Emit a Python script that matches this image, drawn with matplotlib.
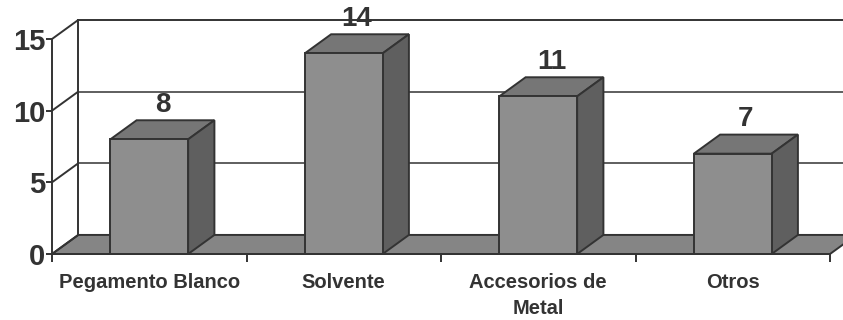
import matplotlib
matplotlib.use("Agg")
import matplotlib.pyplot as plt
from matplotlib.patches import Polygon

plt.rcParams["font.family"] = ["Liberation Sans", "DejaVu Sans"]

categories = ["Pegamento Blanco", "Solvente", "Accesorios de\nMetal", "Otros"]
values = [8, 14, 11, 7]
y_ticks = [0, 5, 10, 15]

TEXT = "#333333"
EDGE = "#333333"
FRONT = "#8e8e8e"
TOP = "#767676"
SIDE = "#5f5f5f"
FLOOR = "#858585"

fig = plt.figure(figsize=(8.43, 3.2), dpi=100)
ax = fig.add_axes([52 / 843, 66 / 320, 778 / 843, 215 / 320])
n = len(categories)
ax.set_xlim(0, n)
ax.set_ylim(0, 15)

# depth offset of the 3-D box, in data units
DX, DY = 0.135, 1.33
BW = 0.40  # bar width as fraction of a category

lw = 1.4
# floor
ax.add_patch(Polygon([(0, 0), (n, 0), (n + DX, DY), (DX, DY)], closed=True,
                     facecolor=FLOOR, edgecolor=EDGE, lw=lw, clip_on=False, zorder=1))

# back wall and side wall grid
for v in y_ticks:
    ax.plot([0, DX], [v, v + DY], color=EDGE, lw=lw, clip_on=False, zorder=1,
            solid_capstyle="butt")
    if v > 0:
        ax.plot([DX, n + DX], [v + DY, v + DY], color=EDGE,
                lw=lw if v == y_ticks[-1] else 1.1, clip_on=False, zorder=0.5)
ax.plot([DX, DX], [DY, y_ticks[-1] + DY], color=EDGE, lw=lw, clip_on=False, zorder=1)

# bars
for i, v in enumerate(values):
    x0 = i + 0.5 - BW / 2
    x1 = i + 0.5 + BW / 2
    ax.add_patch(Polygon([(x0, v), (x1, v), (x1 + DX, v + DY), (x0 + DX, v + DY)],
                         closed=True, facecolor=TOP, edgecolor=EDGE, lw=lw,
                         clip_on=False, zorder=3, joinstyle="miter"))
    ax.add_patch(Polygon([(x1, 0), (x1 + DX, DY), (x1 + DX, v + DY), (x1, v)],
                         closed=True, facecolor=SIDE, edgecolor=EDGE, lw=lw,
                         clip_on=False, zorder=3, joinstyle="miter"))
    ax.add_patch(Polygon([(x0, 0), (x1, 0), (x1, v), (x0, v)], closed=True,
                         facecolor=FRONT, edgecolor=EDGE, lw=lw, clip_on=False,
                         zorder=4, joinstyle="miter"))
    ax.text(i + 0.5 + DX / 2, v + DY + 0.15, f"{v}", ha="center", va="bottom",
            fontsize=20, fontweight="bold", color=TEXT, zorder=5)

# axes frame: front left edge and front floor edge
for s in ["top", "right"]:
    ax.spines[s].set_visible(False)
for s in ["left", "bottom"]:
    ax.spines[s].set_color(EDGE)
    ax.spines[s].set_linewidth(lw)
    ax.spines[s].set_zorder(6)

ax.set_yticks(y_ticks)
ax.set_yticklabels([str(t) for t in y_ticks], fontsize=21, fontweight="bold", color=TEXT)
ax.tick_params(axis="y", length=4, width=lw, color=EDGE, pad=1)

ax.set_xticks(range(n + 1))
ax.set_xticklabels([])
ax.set_xticks([i + 0.5 for i in range(n)], minor=True)
ax.set_xticklabels(categories, minor=True, fontsize=14.5, fontweight="bold",
                   color=TEXT, linespacing=1.45)
ax.tick_params(axis="x", which="major", length=6, width=lw, color=EDGE)
ax.tick_params(axis="x", which="minor", length=0, pad=14)
ax.patch.set_visible(False)

fig.savefig("out.png", dpi=100)
